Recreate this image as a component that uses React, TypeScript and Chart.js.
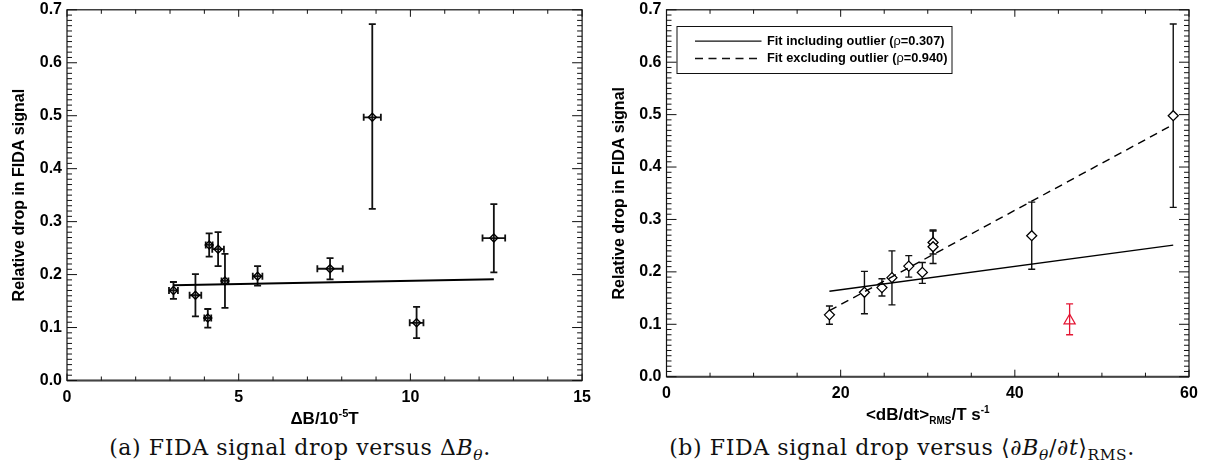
import React, { useEffect, useRef } from "react";
import { Chart, registerables } from "chart.js";

Chart.register(...registerables);

const FONT = "'Liberation Sans', Arial, Helvetica, sans-serif";

// ---------- Panel (a): drop vs ΔB ----------
const aX = [3.1, 3.74, 4.1, 4.14, 4.4, 4.6, 5.55, 7.66, 8.89, 10.18, 12.43];
const aY = [0.170, 0.161, 0.118, 0.256, 0.248, 0.188, 0.197, 0.211, 0.497, 0.109, 0.269];
const aYLo = [0.154, 0.121, 0.100, 0.234, 0.216, 0.137, 0.179, 0.191, 0.324, 0.080, 0.204];
const aYHi = [0.186, 0.201, 0.135, 0.278, 0.280, 0.239, 0.216, 0.231, 0.673, 0.139, 0.333];
const aXErr = [0.13, 0.17, 0.10, 0.10, 0.17, 0.10, 0.14, 0.37, 0.25, 0.20, 0.33];
const aFitX = [3.1, 12.43];
const aFitY = [0.180, 0.191];
const aXTicks = [0, 5, 10, 15];

// ---------- Panel (b): drop vs <dB/dt>_RMS ----------
const bX = [18.71, 22.73, 24.74, 25.89, 27.82, 29.38, 30.61, 30.61, 41.94, 58.19];
const bY = [0.118, 0.161, 0.170, 0.189, 0.211, 0.199, 0.256, 0.248, 0.269, 0.498];
const bYLo = [0.100, 0.120, 0.154, 0.137, 0.190, 0.178, 0.234, 0.216, 0.205, 0.323];
const bYHi = [0.135, 0.201, 0.187, 0.240, 0.231, 0.218, 0.278, 0.280, 0.333, 0.673];
const bOutX = [46.29];
const bOutY = [0.107];
const bOutLo = [0.080];
const bOutHi = [0.139];
const bFitX = [18.71, 58.19];
const bFitInclY = [0.163, 0.251];
const bFitExclY = [0.126, 0.481];
const bXTicks = [0, 20, 40, 60];
const yTicks = [0, 0.1, 0.2, 0.3, 0.4, 0.5, 0.6, 0.7];

const legendLabels = ["Fit including outlier (", "Fit excluding outlier ("];
const legendRho = ["=0.307)", "=0.940)"];

const RED = "rgb(228,22,52)";

type Seg = { t: string; size: number; dy?: number; bold?: boolean };

function drawRich(ctx: CanvasRenderingContext2D, segs: Seg[], x0: number, y: number, align: "center" | "left") {
  const fonts = segs.map((s) => `${s.bold === false ? "" : "bold "}${s.size}px ${FONT}`);
  const widths = segs.map((s, i) => {
    ctx.font = fonts[i];
    return ctx.measureText(s.t).width;
  });
  const total = widths.reduce((a, b) => a + b, 0);
  let x = align === "center" ? x0 - total / 2 : x0;
  ctx.textAlign = "left";
  segs.forEach((s, i) => {
    ctx.font = fonts[i];
    ctx.fillText(s.t, x, y + (s.dy || 0));
    x += widths[i];
  });
}

function pts(xs: number[], ys: number[]) {
  return xs.map((x, i) => ({ x, y: ys[i] }));
}

type ErrGroup = {
  xs: number[];
  ys: number[];
  lo: number[];
  hi: number[];
  xerr?: number[];
  color: string;
  width: number;
  cap: number;
};

function errorBars(groups: ErrGroup[]) {
  return {
    id: "errbars",
    beforeDatasetsDraw(chart: any) {
      const { ctx } = chart;
      const x = chart.scales.x;
      const y = chart.scales.y;
      ctx.save();
      groups.forEach((g) => {
        ctx.strokeStyle = g.color;
        ctx.lineWidth = g.width;
        g.xs.forEach((xv, i) => {
          const px = x.getPixelForValue(xv);
          const pLo = y.getPixelForValue(g.lo[i]);
          const pHi = y.getPixelForValue(g.hi[i]);
          ctx.beginPath();
          ctx.moveTo(px, pLo);
          ctx.lineTo(px, pHi);
          ctx.moveTo(px - g.cap, pLo);
          ctx.lineTo(px + g.cap, pLo);
          ctx.moveTo(px - g.cap, pHi);
          ctx.lineTo(px + g.cap, pHi);
          if (g.xerr) {
            const py = y.getPixelForValue(g.ys[i]);
            const l = x.getPixelForValue(xv - g.xerr[i]);
            const r = x.getPixelForValue(xv + g.xerr[i]);
            ctx.moveTo(l, py);
            ctx.lineTo(r, py);
            ctx.moveTo(l, py - g.cap);
            ctx.lineTo(l, py + g.cap);
            ctx.moveTo(r, py - g.cap);
            ctx.lineTo(r, py + g.cap);
          }
          ctx.stroke();
        });
      });
      ctx.restore();
    },
  };
}

type FrameCfg = { xMax: number; xMinor: number; xMajor: number; xTitle: Seg[] };

function framePlugin(cfg: FrameCfg) {
  return {
    id: "frame",
    afterDraw(chart: any) {
      const { ctx, chartArea: a } = chart;
      const x = chart.scales.x;
      const y = chart.scales.y;
      ctx.save();
      ctx.strokeStyle = "#111";
      ctx.lineWidth = 1.2;
      ctx.strokeRect(a.left, a.top, a.right - a.left, a.bottom - a.top);
      ctx.strokeStyle = "#444";
      ctx.lineWidth = 2;
      ctx.beginPath();
      ctx.moveTo(a.left, a.bottom);
      ctx.lineTo(a.right, a.bottom);
      ctx.stroke();
      ctx.strokeStyle = "#111";
      ctx.lineWidth = 1;
      ctx.beginPath();
      const nx = Math.round(cfg.xMax / cfg.xMinor);
      for (let i = 0; i <= nx; i++) {
        const v = i * cfg.xMinor;
        const px = x.getPixelForValue(v);
        const major = Math.abs(v / cfg.xMajor - Math.round(v / cfg.xMajor)) < 1e-6;
        const L = major ? 7 : 4;
        ctx.moveTo(px, a.bottom);
        ctx.lineTo(px, a.bottom - L);
        ctx.moveTo(px, a.top);
        ctx.lineTo(px, a.top + L);
      }
      for (let i = 0; i <= 70; i++) {
        const v = i / 100;
        const py = y.getPixelForValue(v);
        const L = i % 10 === 0 ? 10 : 5;
        ctx.moveTo(a.left, py);
        ctx.lineTo(a.left + L, py);
        ctx.moveTo(a.right, py);
        ctx.lineTo(a.right - L, py);
      }
      ctx.stroke();

      // axis titles
      ctx.fillStyle = "#000";
      ctx.textBaseline = "alphabetic";
      drawRich(ctx, cfg.xTitle, (a.left + a.right) / 2, a.bottom + 43, "center");
      ctx.save();
      ctx.translate(a.left - 47, (a.top + a.bottom) / 2);
      ctx.rotate(-Math.PI / 2);
      ctx.font = `bold 16px ${FONT}`;
      ctx.textAlign = "center";
      ctx.textBaseline = "middle";
      ctx.fillText("Relative drop in FIDA signal", 0, 0);
      ctx.restore();
      ctx.restore();
    },
  };
}

const legendPlugin = {
  id: "fitlegend",
  afterDatasetsDraw(chart: any) {
    const { ctx, chartArea: a } = chart;
    ctx.save();
    const bx = a.left + 10.5;
    const by = a.top + 16.7;
    ctx.fillStyle = "#fff";
    ctx.fillRect(bx, by, 275, 47);
    ctx.strokeStyle = "#111";
    ctx.lineWidth = 1;
    ctx.strokeRect(bx, by, 275, 47);
    const rows = [a.top + 31.4, a.top + 48.7];
    rows.forEach((ry, i) => {
      ctx.beginPath();
      ctx.lineWidth = 1.3;
      ctx.setLineDash(i === 0 ? [] : [8, 5.5]);
      ctx.moveTo(a.left + 28.5, ry);
      ctx.lineTo(a.left + 95, ry);
      ctx.stroke();
      ctx.setLineDash([]);
      ctx.fillStyle = "#000";
      ctx.textBaseline = "middle";
      drawRich(
        ctx,
        [
          { t: legendLabels[i], size: 12.8 },
          { t: "\u03c1", size: 12.8, bold: false },
          { t: legendRho[i], size: 12.8 },
        ],
        a.left + 100.5,
        ry,
        "left"
      );
    });
    ctx.restore();
  },
};

function scales(xMax: number, xStep: number, xTicks: number[], yWidth: number) {
  return {
    x: {
      type: "linear",
      min: 0,
      max: xMax,
      grid: { display: false, drawTicks: false },
      border: { display: false },
      afterBuildTicks: (s: any) => {
        s.ticks = xTicks.map((v) => ({ value: v }));
      },
      ticks: {
        stepSize: xStep,
        autoSkip: false,
        maxRotation: 0,
        padding: 9,
        color: "#000",
        font: { family: FONT, size: 16, weight: "bold", lineHeight: 1 },
        callback: (v: any) => String(v),
      },
      afterFit: (s: any) => {
        s.height = 40;
      },
    },
    y: {
      type: "linear",
      min: 0,
      max: 0.7,
      grid: { display: false, drawTicks: false },
      border: { display: false },
      afterBuildTicks: (s: any) => {
        s.ticks = yTicks.map((v) => ({ value: v }));
      },
      ticks: {
        autoSkip: false,
        padding: 5,
        color: "#000",
        font: { family: FONT, size: 16, weight: "bold", lineHeight: 0.6 },
        callback: (v: any) => Number(v).toFixed(1),
      },
      afterFit: (s: any) => {
        s.width = yWidth;
      },
    },
  };
}

function leftConfig(): any {
  return {
    type: "scatter",
    data: {
      datasets: [
        {
          data: pts(aFitX, aFitY),
          showLine: true,
          borderColor: "#000",
          borderWidth: 2,
          pointRadius: 0,
        },
        {
          data: pts(aX, aY),
          pointStyle: "rectRot",
          pointRadius: 4,
          pointBorderWidth: 1.4,
          pointBorderColor: "#000",
          pointBackgroundColor: "rgba(0,0,0,0)",
        },
      ],
    },
    options: {
      animation: false,
      responsive: false,
      devicePixelRatio: 1,
      layout: { padding: { left: 0, right: 11, top: 9.5, bottom: 9.5 } },
      plugins: { legend: { display: false }, tooltip: { enabled: false } },
      scales: scales(15, 5, aXTicks, 67),
    },
    plugins: [
      errorBars([{ xs: aX, ys: aY, lo: aYLo, hi: aYHi, xerr: aXErr, color: "#111", width: 1.8, cap: 3.5 }]),
      framePlugin({
        xMax: 15,
        xMinor: 1,
        xMajor: 5,
        xTitle: [
          { t: "\u0394B/10", size: 17 },
          { t: "-5", size: 11, dy: -7 },
          { t: "T", size: 17 },
        ],
      }),
    ],
  };
}

function rightConfig(): any {
  return {
    type: "scatter",
    data: {
      datasets: [
        {
          data: pts(bFitX, bFitInclY),
          showLine: true,
          borderColor: "#000",
          borderWidth: 1.4,
          pointRadius: 0,
        },
        {
          data: pts(bFitX, bFitExclY),
          showLine: true,
          borderColor: "#000",
          borderWidth: 1.4,
          borderDash: [8, 5.5],
          pointRadius: 0,
        },
        {
          data: pts(bX, bY),
          pointStyle: "rectRot",
          pointRadius: 5,
          pointBorderWidth: 1.3,
          pointBorderColor: "#000",
          pointBackgroundColor: "#fff",
        },
        {
          data: pts(bOutX, bOutY),
          pointStyle: "triangle",
          pointRadius: 6.5,
          pointBorderWidth: 1.2,
          pointBorderColor: RED,
          pointBackgroundColor: "rgba(0,0,0,0)",
        },
      ],
    },
    options: {
      animation: false,
      responsive: false,
      devicePixelRatio: 1,
      layout: { padding: { left: 0, right: 18, top: 5.3, bottom: 13.3 } },
      plugins: { legend: { display: false }, tooltip: { enabled: false } },
      scales: scales(60, 20, bXTicks, 66.5),
    },
    plugins: [
      errorBars([
        { xs: bX, ys: bY, lo: bYLo, hi: bYHi, color: "#111", width: 1.4, cap: 3.5 },
        { xs: bOutX, ys: bOutY, lo: bOutLo, hi: bOutHi, color: RED, width: 1.3, cap: 3.5 },
      ]),
      legendPlugin,
      framePlugin({
        xMax: 60,
        xMinor: 5,
        xMajor: 20,
        xTitle: [
          { t: "<dB/dt>", size: 17 },
          { t: "RMS", size: 10, dy: 4 },
          { t: "/T s", size: 17 },
          { t: "-1", size: 10, dy: -7 },
        ],
      }),
    ],
  };
}

const captionStyle = (left: number): React.CSSProperties => ({
  position: "absolute",
  left,
  top: 434,
  width: 600,
  textAlign: "center",
  fontFamily: "'DejaVu Serif', 'Liberation Serif', serif",
  fontSize: 22,
  letterSpacing: "0.6px",
  lineHeight: "28px",
  color: "#111",
  whiteSpace: "nowrap",
});

const subStyle: React.CSSProperties = { fontSize: "0.7em", verticalAlign: "-0.3em", lineHeight: 0 };

export default function App() {
  const leftRef = useRef<HTMLCanvasElement>(null);
  const rightRef = useRef<HTMLCanvasElement>(null);
  useEffect(() => {
    const c1 = new Chart(leftRef.current as HTMLCanvasElement, leftConfig());
    const c2 = new Chart(rightRef.current as HTMLCanvasElement, rightConfig());
    return () => {
      c1.destroy();
      c2.destroy();
    };
  }, []);
  return (
    <div style={{ position: "absolute", left: 0, top: 0, width: 1207, height: 476, background: "#fff", overflow: "hidden" }}>
      <canvas ref={leftRef} width={600} height={430} style={{ position: "absolute", left: 0, top: 0 }} />
      <canvas ref={rightRef} width={607} height={430} style={{ position: "absolute", left: 600, top: 0 }} />
      <div style={captionStyle(0)}>
        (a) FIDA signal drop versus Δ<i>B</i>
        <span style={subStyle}>
          <i>θ</i>
        </span>
        .
      </div>
      <div style={captionStyle(602)}>
        (b) FIDA signal drop versus ⟨∂<i>B</i>
        <span style={subStyle}>
          <i>θ</i>
        </span>
        /∂<i>t</i>⟩<span style={subStyle}>RMS</span>.
      </div>
    </div>
  );
}
